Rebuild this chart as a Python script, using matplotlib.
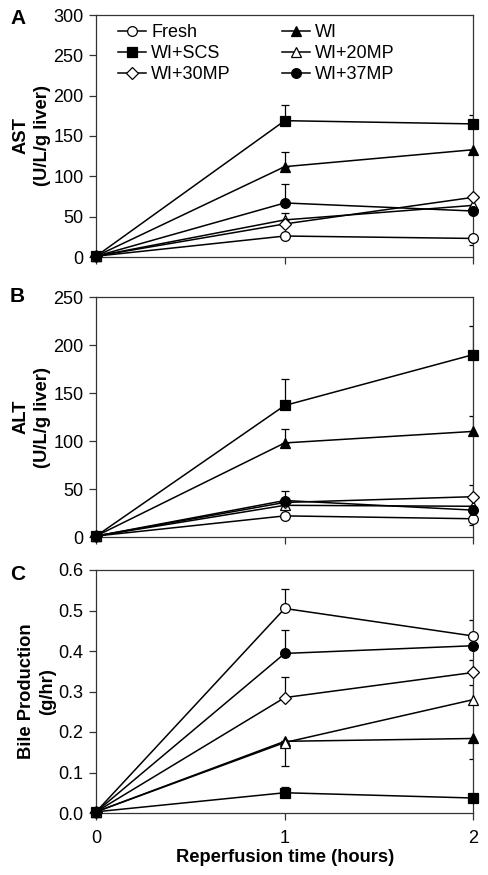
import matplotlib
matplotlib.use("Agg")
import matplotlib.pyplot as plt

plt.rcParams['font.family'] = ['Liberation Sans', 'DejaVu Sans']

hours = [0, 1, 2]
series = ["Fresh", "WI", "WI+SCS", "WI+20MP", "WI+30MP", "WI+37MP"]

# AST (U/L/g liver)
ast_vals = {
    "Fresh":   [1, 26, 23],
    "WI":      [1, 112, 133],
    "WI+SCS":  [1, 169, 165],
    "WI+20MP": [1, 46, 64],
    "WI+30MP": [1, 41, 74],
    "WI+37MP": [1, 67, 57],
}
# signed error bars (positive = drawn up, negative = drawn down)
ast_err = {
    "Fresh":   [0, 0, -8],
    "WI":      [0, 18, 0],
    "WI+SCS":  [0, 19, 11],
    "WI+20MP": [0, 9, 0],
    "WI+30MP": [0, 0, 0],
    "WI+37MP": [0, 23, 0],
}

# ALT (U/L/g liver)
alt_vals = {
    "Fresh":   [1, 22, 19],
    "WI":      [1, 98, 110],
    "WI+SCS":  [1, 137, 190],
    "WI+20MP": [1, 33, 32],
    "WI+30MP": [1, 36, 42],
    "WI+37MP": [1, 38, 28],
}
alt_err = {
    "Fresh":   [0, 0, -6],
    "WI":      [0, 14, 16],
    "WI+SCS":  [0, 28, 30],
    "WI+20MP": [0, 0, 0],
    "WI+30MP": [0, 0, 12],
    "WI+37MP": [0, 10, 0],
}

# Bile production (g/hr)
bile_vals = {
    "Fresh":   [0.003, 0.505, 0.437],
    "WI":      [0.003, 0.177, 0.184],
    "WI+SCS":  [0.003, 0.050, 0.037],
    "WI+20MP": [0.003, 0.174, 0.280],
    "WI+30MP": [0.003, 0.285, 0.347],
    "WI+37MP": [0.003, 0.394, 0.413],
}
bile_err = {
    "Fresh":   [0, 0.047, 0.040],
    "WI":      [0, 0, -0.051],
    "WI+SCS":  [0, 0.013, 0],
    "WI+20MP": [0, -0.058, 0.036],
    "WI+30MP": [0, 0.052, 0.031],
    "WI+37MP": [0, 0.057, 0],
}

styles = {
    "Fresh":   dict(marker="o", mfc="white"),
    "WI":      dict(marker="^", mfc="black"),
    "WI+SCS":  dict(marker="s", mfc="black"),
    "WI+20MP": dict(marker="^", mfc="white"),
    "WI+30MP": dict(marker="D", mfc="white", markersize=6),
    "WI+37MP": dict(marker="o", mfc="black"),
}

fig = plt.figure(figsize=(4.88, 8.75), dpi=100)
L, R = 0.197, 0.970
axA = fig.add_axes([L, 1 - 257 / 875, R - L, (257 - 15) / 875])
axB = fig.add_axes([L, 1 - 537 / 875, R - L, (537 - 297) / 875])
axC = fig.add_axes([L, 1 - 813 / 875, R - L, (813 - 570) / 875])

panels = [
    (axA, ast_vals, ast_err, 300, 50, "AST\n(U/L/g liver)", "A", 19, "{:.0f}"),
    (axB, alt_vals, alt_err, 250, 50, "ALT\n(U/L/g liver)", "B", 296, "{:.0f}"),
    (axC, bile_vals, bile_err, 0.6, 0.1, "Bile Production\n(g/hr)", "C", 574, "{:.1f}"),
]

for ax, vals, errs, ymax, ystep, ylab, letter, ly, fmt in panels:
    handles = {}
    for name in series:
        st = dict(styles[name])
        ms = st.pop("markersize", 7)
        y = vals[name]
        e = errs[name]
        lower = [-v if v < 0 else 0 for v in e]
        upper = [v if v > 0 else 0 for v in e]
        ax.errorbar(hours, y, yerr=[lower, upper], fmt="none", ecolor="black",
                    elinewidth=0.9, capsize=3, capthick=0.9, zorder=2)
        h, = ax.plot(hours, y, color="black", lw=1.1, markersize=ms,
                     mec="black", mew=0.9, zorder=3, clip_on=False, **st)
        handles[name] = h
    ax.set_xlim(0, 2)
    ax.set_ylim(0, ymax)
    n = int(round(ymax / ystep))
    ticks = [i * ystep for i in range(n + 1)]
    ax.set_yticks(ticks)
    ax.set_yticklabels([fmt.format(t) for t in ticks])
    ax.set_xticks(hours)
    for sp in ax.spines.values():
        sp.set_linewidth(0.9)
        sp.set_color("#333333")
    ax.tick_params(axis="y", direction="out", length=5, width=0.9,
                   labelsize=13, color="#333333", pad=4)
    ax.tick_params(axis="x", direction="out", length=5, width=0.9,
                   labelsize=13, color="#333333", pad=7)
    ax.set_ylabel(ylab, fontsize=13.2, fontweight="bold", labelpad=2,
                  linespacing=1.3)
    fig.text(10 / 488, 1 - ly / 875, letter, fontsize=15,
             fontweight="bold", ha="left", va="center")
    if ax is not axC:
        ax.set_xticklabels([])
    if ax is axA:
        order = ["Fresh", "WI+SCS", "WI+30MP", "WI", "WI+20MP", "WI+37MP"]
        ax.legend([handles[k] for k in order], order, ncol=2, frameon=False,
                  loc="upper left", bbox_to_anchor=(0.033, 1.0), fontsize=13,
                  handlelength=1.55, handletextpad=0.3, columnspacing=2.8,
                  labelspacing=0.22, borderaxespad=0.12)

axC.set_xlabel("Reperfusion time (hours)", fontsize=13.2, fontweight="bold",
               labelpad=2)

fig.savefig("out.png", dpi=100)
